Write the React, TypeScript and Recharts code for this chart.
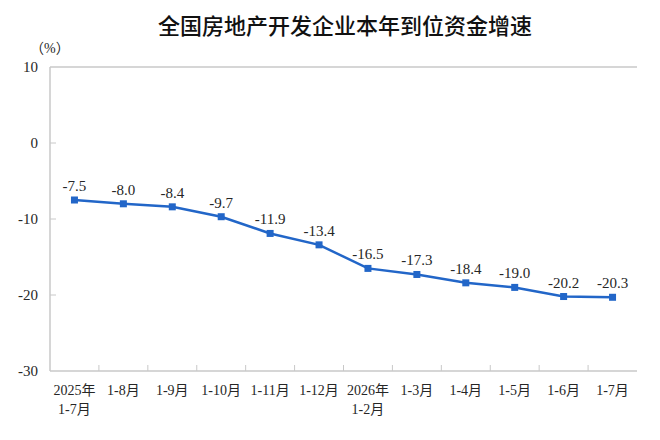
import React from "react";
import { LineChart, Line, XAxis, YAxis, ReferenceLine, LabelList } from "recharts";

const categories = [
  "2025年\n1-7月",
  "1-8月",
  "1-9月",
  "1-10月",
  "1-11月",
  "1-12月",
  "2026年\n1-2月",
  "1-3月",
  "1-4月",
  "1-5月",
  "1-6月",
  "1-7月",
];
const growth = [-7.5, -8.0, -8.4, -9.7, -11.9, -13.4, -16.5, -17.3, -18.4, -19.0, -20.2, -20.3];
const yTicks = [10, 0, -10, -20, -30];

const W = 660;
const H = 440;
const margin = { top: 67, right: 23, left: 10, bottom: 19 };
const Y_W = 40;
const bandW = (W - margin.left - Y_W - margin.right) / categories.length;

const SERIF = "'Liberation Serif', 'Noto Sans CJK SC', serif";
const AXIS = "#c8c8c8";
const BLUE = "#2266c8";
const TEXT = "#262626";

const data = categories.map((name, i) => ({ name, value: growth[i] }));

const XTick = (props: any) => {
  const { x, y, payload, index } = props;
  const lines = String(payload.value).split("\n");
  return (
    <g>
      {index > 0 && (
        <line x1={x - bandW / 2} x2={x - bandW / 2} y1={y} y2={y - 6} stroke={AXIS} strokeWidth={1} />
      )}
      <text x={x} y={y + 24} textAnchor="middle" style={{ fontFamily: SERIF, fontSize: 14 }} fill={TEXT}>
        {lines.map((l, i) => (
          <tspan key={i} x={x} dy={i === 0 ? 0 : 19}>
            {l}
          </tspan>
        ))}
      </text>
    </g>
  );
};

const YTick = (props: any) => {
  const { x, y, payload } = props;
  const v = payload.value;
  return (
    <g>
      {v !== 10 && v !== -30 && <line x1={x} x2={x + 6} y1={y} y2={y} stroke={AXIS} strokeWidth={1} />}
      <text x={x - 12} y={y + 5} textAnchor="end" style={{ fontFamily: SERIF, fontSize: 15 }} fill={TEXT}>
        {v}
      </text>
    </g>
  );
};

const SquareDot = (props: any) => {
  const { cx, cy, index } = props;
  return <rect key={index} x={cx - 3.5} y={cy - 3.5} width={7} height={7} fill={BLUE} />;
};

const ValueLabel = (props: any) => {
  const { x, y, value } = props;
  return (
    <text x={x} y={y - 9} textAnchor="middle" style={{ fontFamily: SERIF, fontSize: 15 }} fill={TEXT}>
      {Number(value).toFixed(1)}
    </text>
  );
};

export default function App() {
  return (
    <div style={{ position: "absolute", left: 0, top: 0, width: W, height: H, background: "#fff" }}>
      <div
        style={{
          position: "absolute",
          left: 0,
          width: W,
          top: 9,
          textAlign: "center",
          fontFamily: "'Noto Sans CJK SC', sans-serif",
          fontSize: 22,
          fontWeight: 500,
          color: "#111",
          paddingLeft: 30,
          boxSizing: "border-box",
          lineHeight: "30px",
        }}
      >
        全国房地产开发企业本年到位资金增速
      </div>
      <div
        style={{
          position: "absolute",
          left: 30,
          top: 37,
          fontFamily: SERIF,
          fontSize: 14,
          color: TEXT,
        }}
      >
        （%）
      </div>
      <LineChart width={W} height={H} data={data} margin={margin}>
        <XAxis
          dataKey="name"
          scale="band"
          interval={0}
          height={50}
          tickSize={0}
          tickMargin={0}
          tickLine={false}
          axisLine={{ stroke: AXIS, strokeWidth: 1.5 }}
          tick={<XTick />}
        />
        <YAxis
          domain={[-30, 10]}
          ticks={yTicks}
          width={Y_W}
          tickSize={0}
          tickMargin={0}
          tickLine={false}
          axisLine={{ stroke: AXIS, strokeWidth: 1.5 }}
          tick={<YTick />}
          interval={0}
        />
        <YAxis
          yAxisId="right"
          orientation="right"
          domain={[-30, 10]}
          width={0}
          tick={false}
          tickLine={false}
          axisLine={{ stroke: AXIS, strokeWidth: 1.5 }}
        />
        <ReferenceLine y={10} stroke={AXIS} strokeWidth={1.5} />
        <Line
          dataKey="value"
          stroke={BLUE}
          strokeWidth={2.5}
          dot={<SquareDot />}
          activeDot={false}
          isAnimationActive={false}
        >
          <LabelList dataKey="value" content={<ValueLabel />} />
        </Line>
      </LineChart>
    </div>
  );
}
